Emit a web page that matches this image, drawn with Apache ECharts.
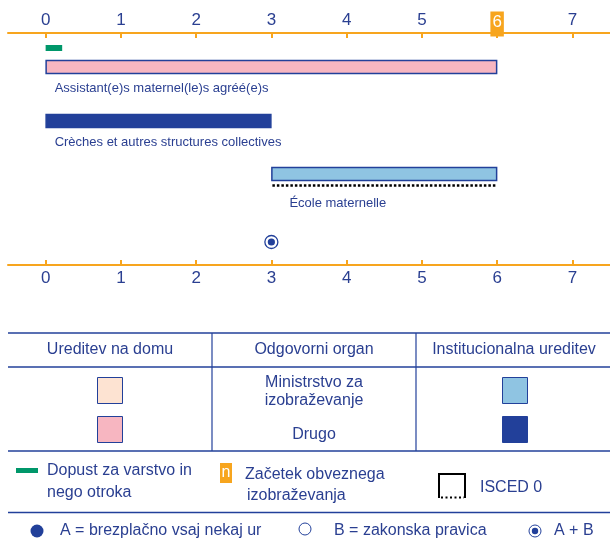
<!DOCTYPE html>
<html>
<head>
<meta charset="utf-8">
<script src="https://cdn.jsdelivr.net/npm/echarts@6/dist/echarts.min.js"></script>
<style>
  html, body { margin: 0; padding: 0; background: #fff; }
  #chart { width: 610px; height: 544px; }
</style>
</head>
<body>
<div id="chart"></div>
<script>
// ---- data ----
const ageTicks = [0, 1, 2, 3, 4, 5, 6, 7]
const settingNames = [
  'Assistant(e)s maternel(le)s agréé(e)s',
  'Crèches et autres structures collectives',
  'École maternelle'
]
const settingStart = [0, 0, 3]
const settingEnd = [6, 3, 6]
const settingIsced = [false, false, true]
const settingColors = ['#f7b6c1', '#22409a', '#8fc4e2']
const leaveStart = [0]
const leaveEnd = [0.22]
const entitlementAges = [3]   // A + B
const compulsoryAge = 6

// ---- style / layout ----
const FONT = '"Liberation Sans", Arial, sans-serif'
const BLUE = '#22409a'
const TEXT = '#2a3f91'
const ORANGE = '#f7a51e'
const GREEN = '#00976a'
const LEG = '16px ' + FONT
// lane positions inside the plot (pixels below the top axis)
const LEAVE_LANE = 15
const BAR_LANES = [34, 88, 141]
const MARK_LANE = 209
const LABEL_DX = [9, 9, 18]
const LABEL_DY = [21, 21, 29]

const chart = echarts.init(document.getElementById('chart'), null, { renderer: 'canvas' })

const xAxisBase = {
  type: 'value',
  min: -0.5,
  max: 7.5,
  splitLine: { show: false },
  axisLine: { show: true, lineStyle: { color: ORANGE, width: 2 } },
  axisTick: { show: true, inside: true, length: 5, customValues: ageTicks, lineStyle: { color: ORANGE, width: 2 } }
}

function rectPath(api, s, e, y, h) {
  const a = api.coord([s, y])
  const b = api.coord([e, y])
  return { x: a[0], y: a[1] - h / 2, width: b[0] - a[0], height: h }
}

function txt(x, y, text, align) {
  return { type: 'text', style: { x, y, text, fill: TEXT, font: LEG, align: align || 'left', verticalAlign: 'middle' } }
}

const option = {
  animation: false,
  textStyle: { fontFamily: FONT },
  grid: { left: 8, right: 0, top: 33, bottom: 544 - 265 },
  xAxis: [
    Object.assign({}, xAxisBase, {
      position: 'top',
      axisLabel: {
        customValues: ageTicks,
        margin: 0,
        fontSize: 17,
        color: TEXT,
        formatter: v => (v === compulsoryAge ? '{hi|' + v + '}' : '{n|' + v + '}'),
        rich: {
          n: { fontSize: 17, color: TEXT, lineHeight: 18, padding: [0, 2, 8, 2] },
          hi: { fontSize: 17, color: '#fff', lineHeight: 18, padding: [2, 2, 6, 2], backgroundColor: ORANGE }
        }
      }
    }),
    Object.assign({}, xAxisBase, {
      position: 'bottom',
      axisLabel: { customValues: ageTicks, margin: 5, fontSize: 17, color: TEXT }
    })
  ],
  yAxis: { type: 'value', min: 0, max: 232, inverse: true, show: false },
  series: [
    {
      type: 'custom',
      name: 'leave',
      data: leaveStart.map((s, i) => [s, leaveEnd[i]]),
      renderItem: (params, api) => ({
        type: 'rect',
        shape: rectPath(api, api.value(0), api.value(1), LEAVE_LANE, 6),
        style: { fill: GREEN }
      })
    },
    {
      type: 'custom',
      name: 'settings',
      data: settingNames.map((n, i) => [settingStart[i], settingEnd[i], i]),
      renderItem: (params, api) => {
        const i = params.dataIndex
        const r = rectPath(api, api.value(0), api.value(1), BAR_LANES[i], 14)
        const children = [{
          type: 'rect',
          shape: { x: r.x + 0.5, y: r.y + 0.5, width: r.width - 1, height: r.height - 1 },
          style: { fill: settingColors[i], stroke: BLUE, lineWidth: 1.5 }
        }, {
          type: 'text',
          style: {
            x: r.x + LABEL_DX[i], y: r.y + 7 + LABEL_DY[i],
            text: settingNames[i], fill: TEXT, font: '13px ' + FONT,
            verticalAlign: 'middle'
          }
        }]
        if (settingIsced[i]) {
          children.push({
            type: 'line',
            shape: { x1: r.x + 1, y1: r.y + r.height + 4.5, x2: r.x + r.width, y2: r.y + r.height + 4.5 },
            style: { stroke: '#000', lineWidth: 2.5, lineDash: [2.5, 2] }
          })
        }
        return { type: 'group', children }
      }
    },
    {
      type: 'custom',
      name: 'entitlement',
      data: entitlementAges.map(a => [a]),
      renderItem: (params, api) => {
        const p = api.coord([api.value(0), MARK_LANE])
        return {
          type: 'group',
          children: [
            { type: 'circle', shape: { cx: p[0], cy: p[1], r: 6.5 }, style: { fill: '#fff', stroke: BLUE, lineWidth: 1.3 } },
            { type: 'circle', shape: { cx: p[0], cy: p[1], r: 3.6 }, style: { fill: BLUE } }
          ]
        }
      }
    }
  ],
  graphic: [
    // table frame
    { type: 'line', shape: { x1: 8, y1: 333, x2: 610, y2: 333 }, style: { stroke: BLUE, lineWidth: 1.5 } },
    { type: 'line', shape: { x1: 8, y1: 367, x2: 610, y2: 367 }, style: { stroke: BLUE, lineWidth: 1.5 } },
    { type: 'line', shape: { x1: 8, y1: 451, x2: 610, y2: 451 }, style: { stroke: BLUE, lineWidth: 1.5 } },
    { type: 'line', shape: { x1: 8, y1: 512.5, x2: 610, y2: 512.5 }, style: { stroke: BLUE, lineWidth: 1.5 } },
    { type: 'line', shape: { x1: 212, y1: 333, x2: 212, y2: 451 }, style: { stroke: BLUE, lineWidth: 1.2 } },
    { type: 'line', shape: { x1: 416, y1: 333, x2: 416, y2: 451 }, style: { stroke: BLUE, lineWidth: 1.2 } },
    // header
    txt(110, 350, 'Ureditev na domu', 'center'),
    txt(314, 350, 'Odgovorni organ', 'center'),
    txt(514, 350, 'Institucionalna ureditev', 'center'),
    // swatches
    { type: 'rect', shape: { x: 97.5, y: 377.5, width: 25, height: 26 }, style: { fill: '#fde3d2', stroke: BLUE, lineWidth: 1 } },
    { type: 'rect', shape: { x: 97.5, y: 416.5, width: 25, height: 26 }, style: { fill: '#f7b6c1', stroke: BLUE, lineWidth: 1 } },
    { type: 'rect', shape: { x: 502.5, y: 377.5, width: 25, height: 26 }, style: { fill: '#8fc4e2', stroke: BLUE, lineWidth: 1 } },
    { type: 'rect', shape: { x: 502.5, y: 416.5, width: 25, height: 26 }, style: { fill: BLUE, stroke: BLUE, lineWidth: 1 } },
    txt(314, 383, 'Ministrstvo za', 'center'),
    txt(314, 401, 'izobraževanje', 'center'),
    txt(314, 435, 'Drugo', 'center'),
    // legend row
    { type: 'rect', shape: { x: 16, y: 468, width: 22, height: 5 }, style: { fill: GREEN } },
    txt(47, 471, 'Dopust za varstvo in'),
    txt(47, 493, 'nego otroka'),
    { type: 'rect', shape: { x: 220, y: 463, width: 12, height: 20 }, style: { fill: ORANGE } },
    { type: 'text', style: { x: 226, y: 473, text: 'n', fill: '#fff', font: LEG, align: 'center', verticalAlign: 'middle' } },
    txt(245, 475, 'Začetek obveznega'),
    txt(247, 496, 'izobraževanja'),
    { type: 'polyline', shape: { points: [[439, 498], [439, 474], [465, 474], [465, 498]] }, style: { stroke: '#000', lineWidth: 2, fill: null } },
    { type: 'line', shape: { x1: 441, y1: 497.5, x2: 464, y2: 497.5 }, style: { stroke: '#000', lineWidth: 2, lineDash: [2, 2.5] } },
    txt(480, 488, 'ISCED 0'),
    // bottom legend
    { type: 'circle', shape: { cx: 37, cy: 531, r: 6.5 }, style: { fill: BLUE } },
    txt(60, 531, 'A = brezplačno vsaj nekaj ur'),
    { type: 'circle', shape: { cx: 305, cy: 529, r: 6 }, style: { fill: '#fff', stroke: BLUE, lineWidth: 1 } },
    txt(334, 531, 'B = zakonska pravica'),
    { type: 'circle', shape: { cx: 535, cy: 531, r: 6 }, style: { fill: '#fff', stroke: BLUE, lineWidth: 1 } },
    { type: 'circle', shape: { cx: 535, cy: 531, r: 3.2 }, style: { fill: BLUE } },
    txt(554, 531, 'A + B')
  ]
}

chart.setOption(option)
</script>
</body>
</html>
